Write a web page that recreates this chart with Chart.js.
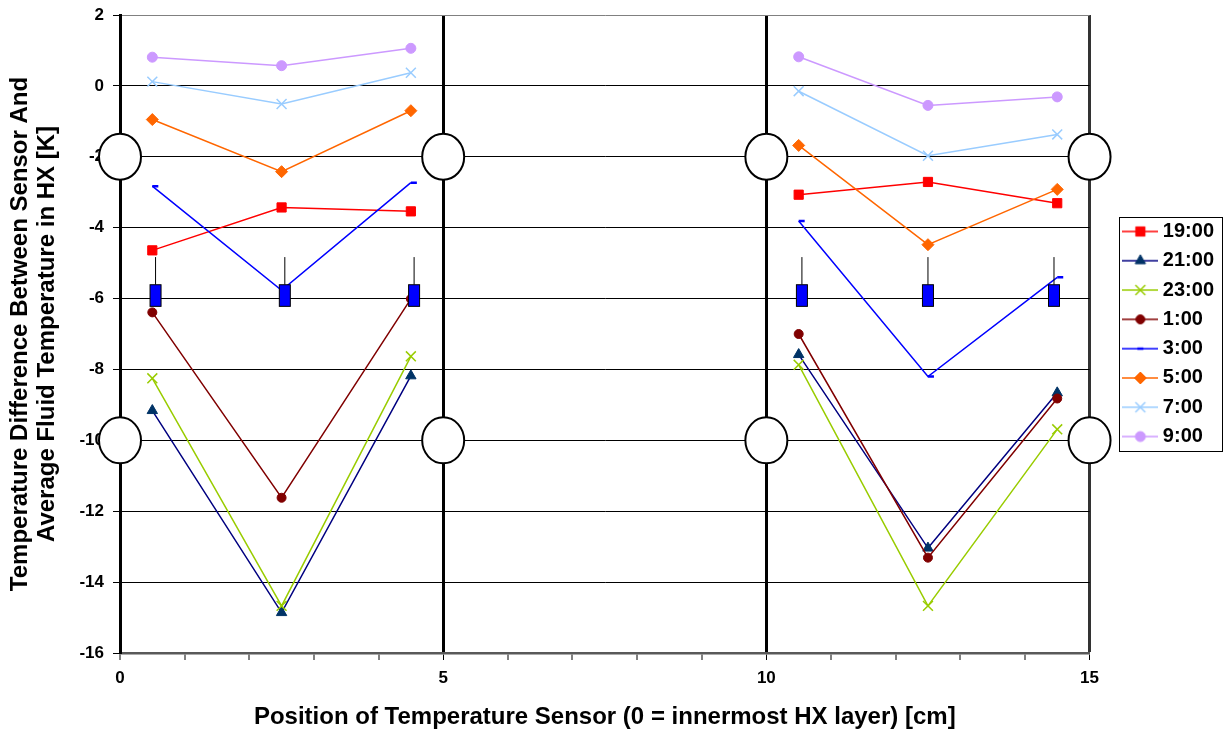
<!DOCTYPE html>
<html lang="en">

<head>
    <meta charset="UTF-8">
    <title>HX Sensor Temperature Difference</title>
    <script src="https://cdn.jsdelivr.net/npm/chart.js"></script>
    <style>
        body {
            margin: 0;
            background: #fff;
        }

        canvas {
            display: block;
        }
    </style>
</head>

<body>
    <canvas id="hxChart" width="1224" height="735"></canvas>

    <script>
        // sensor positions across the two HX sections [cm]
        const sensorPos = [0.5, 2.5, 4.5, 10.5, 12.5, 14.5];

        const seriesLabels = ['19:00', '21:00', '23:00', '1:00', '3:00', '5:00', '7:00', '9:00'];

        // temperature difference sensor vs. average fluid [K]
        const t1900 = [-4.64, -3.43, -3.54, -3.07, -2.71, -3.31];
        const t2100 = [-9.16, -14.86, -8.18, -7.58, -13.04, -8.66];
        const t2300 = [-8.25, -14.67, -7.63, -7.87, -14.67, -9.69];
        const t0100 = [-6.39, -11.62, -6.01, -7.0, -13.31, -8.82];
        const t0300 = [-2.83, -5.77, -2.73, -3.81, -8.2, -5.4];
        const t0500 = [-0.95, -2.42, -0.7, -1.68, -4.48, -2.92];
        const t0700 = [0.12, -0.51, 0.37, -0.15, -1.97, -1.37];
        const t0900 = [0.81, 0.57, 1.06, 0.82, -0.55, -0.31];
        const seriesValues = [t1900, t2100, t2300, t0100, t0300, t0500, t0700, t0900];

        const xTicksLabelled = [0, 5, 10, 15];
        const layerBounds = [5, 10];

        // sketch of the HX: pipe sections and probe bodies
        const pipeX = [0, 5, 10, 15];
        const pipeY = [-2, -10];
        const probeX = [0.55, 2.55, 4.55, 10.55, 12.5, 14.45];
        const probeStem = -4.83;
        const probeTop = -5.61;
        const probeBottom = -6.22;

        const lineColors = ['#FF0000', '#000080', '#99CC00', '#800000', '#0000FF', '#FF6600', '#99CCFF', '#CC99FF'];
        const markColors = ['#FF0000', '#003366', '#99CC00', '#800000', '#0000FF', '#FF6600', '#99CCFF', '#CC99FF'];
        const markStyles = ['rect', 'triangle', 'crossRot', 'circle', 'dash', 'rectRot', 'crossRot', 'circle'];
        const markSizes = [6.5, 6, 7, 4.5, 6, 6, 7, 5];
        const markBorder = [1, 1, 1.5, 1, 2.5, 1, 1.5, 1];

        const FONT = 'Arial, "Liberation Sans", sans-serif';
        Chart.defaults.font.family = FONT;
        Chart.defaults.color = '#000';

        // break the line between the two HX sections
        function toPoints(vals) {
            const pts = [];
            vals.forEach((v, i) => {
                if (i === 3) pts.push({ x: 7.5, y: null });
                pts.push({ x: sensorPos[i], y: v });
            });
            return pts;
        }

        // legend symbol: line with marker in the middle
        function legendIcon(i) {
            const c = document.createElement('canvas');
            c.width = 36;
            c.height = 16;
            const g = c.getContext('2d');
            g.strokeStyle = lineColors[i];
            g.lineWidth = 1.5;
            g.beginPath();
            g.moveTo(0, 8);
            g.lineTo(36, 8);
            g.stroke();
            g.fillStyle = markColors[i];
            g.strokeStyle = markColors[i];
            g.lineWidth = markBorder[i];
            if (Chart.helpers && Chart.helpers.drawPoint) {
                Chart.helpers.drawPoint(g, {
                    pointStyle: markStyles[i],
                    radius: markSizes[i],
                    rotation: 0,
                    borderWidth: markBorder[i]
                }, markStyles[i] === 'dash' ? 15 : 18, 8);
            }
            return c;
        }
        const icons = seriesLabels.map((s, i) => legendIcon(i));

        const datasets = seriesLabels.map((label, i) => ({
            label: label,
            data: toPoints(seriesValues[i]),
            showLine: true,
            spanGaps: false,
            borderColor: lineColors[i],
            borderWidth: 1.5,
            pointStyle: markStyles[i],
            pointRadius: markSizes[i],
            pointHoverRadius: markSizes[i],
            pointBackgroundColor: markColors[i],
            pointBorderColor: markColors[i],
            pointBorderWidth: markBorder[i],
            order: seriesLabels.length - i
        }));

        const hxSketch = {
            id: 'hxSketch',
            afterDatasetsDraw(chart) {
                const { ctx, scales: { x, y } } = chart;
                ctx.save();
                ctx.strokeStyle = '#000';
                probeX.forEach(p => {
                    const cx = x.getPixelForValue(p);
                    const s = y.getPixelForValue(probeStem);
                    const t = y.getPixelForValue(probeTop);
                    const b = y.getPixelForValue(probeBottom);
                    ctx.lineWidth = 1;
                    ctx.beginPath();
                    ctx.moveTo(cx, s);
                    ctx.lineTo(cx, t);
                    ctx.stroke();
                    ctx.fillStyle = '#0000FF';
                    ctx.fillRect(cx - 5.5, t, 11, b - t);
                    ctx.strokeRect(cx - 5.5, t, 11, b - t);
                });
                pipeX.forEach(px => pipeY.forEach(py => {
                    ctx.beginPath();
                    ctx.ellipse(x.getPixelForValue(px), y.getPixelForValue(py), 21, 23, 0, 0, Math.PI * 2);
                    ctx.fillStyle = '#fff';
                    ctx.fill();
                    ctx.lineWidth = 2;
                    ctx.stroke();
                }));
                ctx.restore();
            },
            afterDraw(chart) {
                // frame round the legend
                const lg = chart.legend;
                const hb = lg.legendHitBoxes;
                if (!hb || !hb.length) return;
                const ctx = chart.ctx;
                const top = hb[0].top - 4.5;
                const bottom = hb[hb.length - 1].top + hb[hb.length - 1].height + 4;
                ctx.save();
                ctx.strokeStyle = '#000';
                ctx.lineWidth = 1;
                ctx.strokeRect(Math.round(lg.left) + 0.5, Math.round(top) + 0.5,
                    Math.round(chart.width - lg.left) - 2, Math.round(bottom - top));
                ctx.restore();
            }
        };

        new Chart(document.getElementById('hxChart'), {
            type: 'scatter',
            data: { datasets: datasets },
            options: {
                responsive: false,
                animation: false,
                layout: { padding: { top: 15, left: 0, right: 0, bottom: 0 } },
                plugins: {
                    tooltip: { enabled: false },
                    legend: {
                        position: 'right',
                        fullSize: false,
                        labels: {
                            usePointStyle: true,
                            pointStyleWidth: 25,
                            padding: 9.3,
                            color: '#000',
                            font: { size: 20, weight: 'bold' },
                            sort: (a, b) => a.datasetIndex - b.datasetIndex,
                            generateLabels(chart) {
                                const items = Chart.defaults.plugins.legend.labels.generateLabels(chart);
                                items.forEach(it => { it.pointStyle = icons[it.datasetIndex]; });
                                return items;
                            }
                        }
                    }
                },
                scales: {
                    x: {
                        type: 'linear',
                        min: 0,
                        max: 15,
                        afterFit(s) {
                            s.height = 82;
                            s.paddingLeft = 0;
                            s.paddingRight = 0;
                        },
                        ticks: {
                            stepSize: 1,
                            autoSkip: false,
                            maxRotation: 0,
                            padding: 8,
                            color: '#000',
                            font: { size: 17, weight: 'bold' },
                            callback: v => xTicksLabelled.includes(v) ? v : ''
                        },
                        grid: {
                            color: c => c.tick.value === 15 ? '#333' : '#000',
                            lineWidth: c => (layerBounds.includes(c.tick.value) || c.tick.value === 15) ? 3 : 0,
                            tickLength: 7,
                            tickColor: '#000',
                            tickWidth: 1
                        },
                        border: { color: '#595959', width: 2.5 },
                        title: {
                            display: true,
                            text: 'Position of Temperature Sensor (0 = innermost HX layer) [cm]',
                            color: '#000',
                            font: { size: 24, weight: 'bold' },
                            padding: { top: 0, bottom: 3 }
                        }
                    },
                    y: {
                        min: -16,
                        max: 2,
                        afterFit(s) {
                            s.width = 120;
                            s.paddingTop = 0;
                            s.paddingBottom = 0;
                        },
                        ticks: {
                            stepSize: 2,
                            padding: 9,
                            color: '#000',
                            font: { size: 17, weight: 'bold' }
                        },
                        grid: {
                            color: c => c.tick.value === 2 ? '#808080' : '#000',
                            lineWidth: 1,
                            tickLength: 7,
                            tickColor: '#000',
                            tickWidth: 1
                        },
                        border: { color: '#000', width: 3 },
                        title: {
                            display: true,
                            text: ['Temperature Difference Between Sensor And', 'Average Fluid Temperature in HX [K]'],
                            color: '#000',
                            font: { size: 24, weight: 'bold', lineHeight: 1.125 },
                            padding: { top: 7, bottom: 0 }
                        }
                    },
                    // empty spacer between plot and legend
                    gap: {
                        type: 'linear',
                        position: 'right',
                        afterFit(s) {
                            s.width = 29;
                            s.paddingTop = 0;
                            s.paddingBottom = 0;
                        },
                        grid: { display: false },
                        border: { display: false },
                        ticks: { display: false }
                    }
                }
            },
            plugins: [hxSketch]
        });
    </script>
</body>

</html>
